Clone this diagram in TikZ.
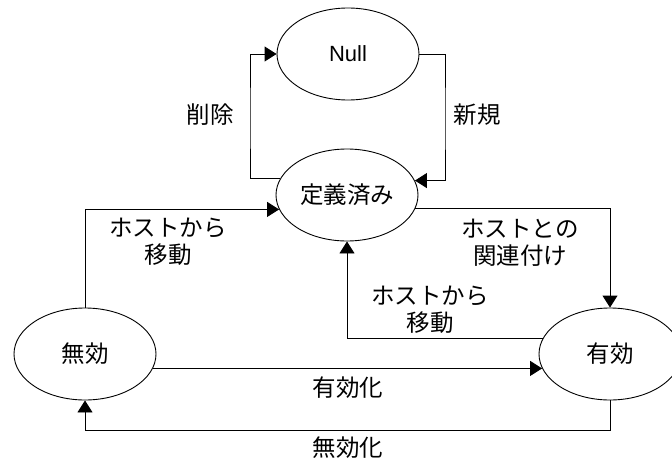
\documentclass[tikz,border=0pt]{standalone}
\usepackage{fontspec}
\setmainfont{Noto Sans CJK JP}
\newfontfamily\latinfont{Liberation Sans}
\usetikzlibrary{arrows.meta,shapes.geometric}
\begin{document}
\begin{tikzpicture}[x=1pt,y=-1pt,
  state/.style={draw,ellipse,line width=0.9pt,minimum width=142pt,minimum height=92pt,inner sep=0pt,font=\fontsize{23.5}{27}\selectfont},
  lbl/.style={align=center,inner sep=0pt,font=\fontsize{23.5}{27}\selectfont},
  conn/.style={line width=0.9pt},
  arr/.style={conn,-{Triangle[length=12pt,width=15pt]}}]
\useasboundingbox (0,0) rectangle (672,460);
\node[state] (null) at (348,54) {\latinfont\fontsize{22}{27}\selectfont Null};
\node[state] (def) at (347,195) {定義済み};
\node[state] (inv) at (85,354) {無効};
\node[state] (val) at (610,354) {有効};
% connectors
\draw[arr] (def.166.5) -| (250,120) |- (null.west);
\draw[arr] (null.east) -| (445,120) |- (def.12.6);
\draw[arr] (inv.north) |- (def.192.6);
\draw[arr] (def.-11.7) -| (val.north);
\draw[arr] (val.167.4) -| (def.south);
\draw[arr] (inv.-12.6) -- (val.192.6);
\draw[arr] (val.south) -- ++(0,30) -| (inv.south);
% labels
\node[lbl] (l1) at (210,115) {削除};
\node[lbl] (l2) at (477,115) {新規};
\node[lbl] (l3) at (168,241.5) {ホストから\\移動};
\node[lbl] (l4) at (520,242.5) {ホストとの\\関連付け};
\node[lbl] (l5) at (430,310) {ホストから\\移動};
\node[lbl] (l6) at (348,388) {有効化};
\node[lbl] (l7) at (348,448) {無効化};
\end{tikzpicture}
\end{document}
